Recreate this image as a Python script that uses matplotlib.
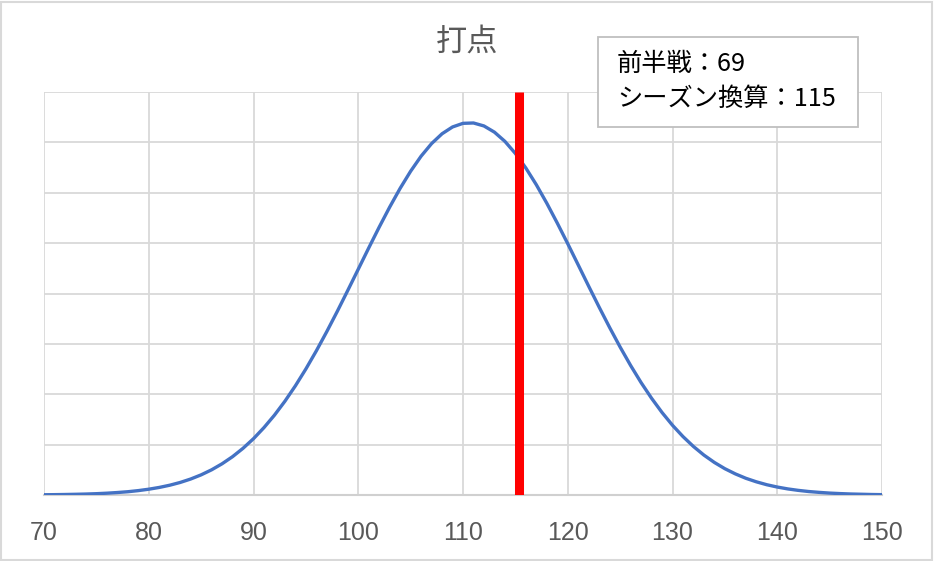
import matplotlib
matplotlib.use("Agg")
import matplotlib.pyplot as plt
from matplotlib.patches import Rectangle

# === データ（画像から読み取り、縦軸はグリッド1目盛=1） ===
x_vals = list(range(70, 151))
density = [
    0.005, 0.007, 0.010, 0.014, 0.019, 0.026, 0.036, 0.049, 0.065, 0.087,
    0.115, 0.150, 0.194, 0.249, 0.317, 0.400, 0.500, 0.620, 0.761, 0.927,
    1.118, 1.338, 1.585, 1.862, 2.168, 2.502, 2.862, 3.245, 3.646, 4.061,
    4.482, 4.904, 5.318, 5.715, 6.088, 6.427, 6.726, 6.976, 7.171, 7.306,
    7.378, 7.385, 7.326, 7.203, 7.020, 6.780, 6.491, 6.159, 5.792, 5.398,
    4.988, 4.567, 4.144, 3.728, 3.324, 2.937, 2.572, 2.232, 1.921, 1.638,
    1.384, 1.160, 0.963, 0.792, 0.646, 0.522, 0.419, 0.332, 0.262, 0.204,
    0.158, 0.121, 0.092, 0.069, 0.052, 0.038, 0.028, 0.020, 0.015, 0.010,
    0.007,
]
season_value = 115.3
x_ticks = [70, 80, 90, 100, 110, 120, 130, 140, 150]
title = "打点"
box_lines = ["前半戦：69", "シーズン換算：115"]

W, H = 934, 561
fig = plt.figure(figsize=(W / 100, H / 100), dpi=100)
fig.patch.set_facecolor("white")

# 外枠
fig.patches.append(Rectangle((0.001, 0.002), 0.997, 0.995, transform=fig.transFigure,
                             fill=False, edgecolor="#d9d9d9", linewidth=1.5))

left, right, top, bottom = 44, 882, 92, 495
ax = fig.add_axes([left / W, 1 - bottom / H, (right - left) / W, (bottom - top) / H])

ax.plot(x_vals, density, color="#4472C4", linewidth=2.4, zorder=3)
ax.plot([season_value, season_value], [0, 8], color="#FF0000", linewidth=6.5,
        solid_capstyle="butt", zorder=4)

ax.set_xlim(70, 150)
ax.set_ylim(0, 8)
ax.set_xticks(x_ticks)
ax.set_yticks(range(0, 9))
ax.set_yticklabels([])
ax.grid(True, color="#d9d9d9", linewidth=1.3)
ax.set_axisbelow(True)
for side in ["top", "left", "right"]:
    ax.spines[side].set_visible(False)
ax.spines["bottom"].set_color("#d0d0d0")
ax.spines["bottom"].set_linewidth(1.5)
ax.tick_params(axis="both", length=0)
ax.tick_params(axis="x", pad=19, labelsize=18, labelcolor="#595959")
for lbl in ax.get_xticklabels():
    lbl.set_fontfamily(["Liberation Sans", "DejaVu Sans"])

fig.text(467 / W, 1 - 42 / H, title, ha="center", va="center", fontsize=22.5,
         color="#595959", family=["Noto Sans CJK JP", "DejaVu Sans"])

# 注記ボックス
bx0, bx1, by0, by1 = 598, 858, 37, 127
fig.patches.append(Rectangle((bx0 / W, 1 - by1 / H), (bx1 - bx0) / W, (by1 - by0) / H,
                             transform=fig.transFigure, facecolor="white",
                             edgecolor="#bfbfbf", linewidth=1.3, zorder=5))
for i, line in enumerate(box_lines):
    fig.text(617 / W, 1 - (64 + 35 * i) / H, line, ha="left", va="center",
             fontsize=18.2, color="black", zorder=6,
             family=["Noto Sans CJK JP", "DejaVu Sans"])

fig.savefig("out.png", dpi=100)
